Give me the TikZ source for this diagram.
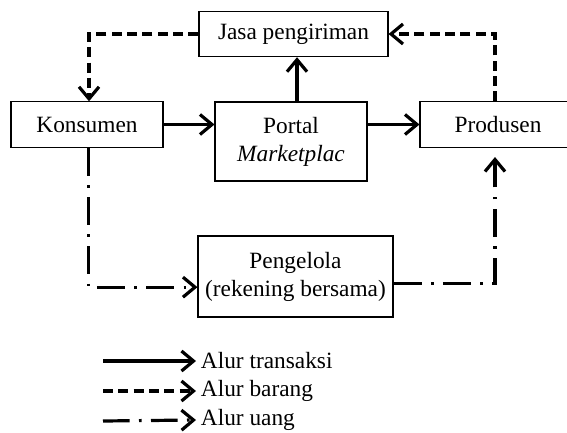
\documentclass[tikz,border=0pt]{standalone}
\usepackage{fontspec}
\setmainfont{Liberation Serif}
\usetikzlibrary{arrows.meta}

\tikzset{every picture/.style={line width=0.75pt}}
\tikzset{
  box/.style={draw, line width=0.8pt, align=center, inner sep=0pt},
  flow/.style={line width=2.4pt, -{Straight Barb[length=9pt,width=15pt,line width=2.4pt]}},
  goods/.style={flow, dash pattern=on 7.5pt off 4pt},
  money/.style={flow, dash pattern=on 21pt off 7pt on 2pt off 7pt},
}

\begin{document}
\begin{tikzpicture}[x=0.75pt,y=0.75pt,yscale=-1,xscale=1,font=\fontsize{17.5}{21}\selectfont]
\useasboundingbox (0,0) rectangle (567,432);

%Shape: Rectangle
\node[box, minimum width=141.75pt, minimum height=34pt] (jasa) at (293.5,34) {Jasa pengiriman};
%Shape: Rectangle
\node[box, minimum width=114pt, minimum height=34pt] (konsumen) at (87,124.5) {Konsumen};
%Shape: Rectangle
\node[box, minimum width=114pt, minimum height=59.25pt] (portal) at (291,141.5) {Portal\\\textit{Marketplac}};
%Shape: Rectangle
\node[box, minimum width=117pt, minimum height=34pt] (produsen) at (498,124.5) {Produsen};
%Shape: Rectangle
\node[box, minimum width=146.25pt, minimum height=60.75pt] (pengelola) at (295.5,276.5) {Pengelola\\(rekening bersama)};

%Straight Lines
\draw[flow] (konsumen.east) -- (portal.west |- konsumen.east);
\draw[flow] (portal.east |- produsen.west) -- (produsen.west);
\draw[flow] ([xshift=4.5pt]portal.north) -- ([xshift=4.5pt]portal.north |- jasa.south);

%Dashed Lines
\draw[goods] (jasa.west) -| ([xshift=1.5pt]konsumen.north);
\draw[goods] ([xshift=-2.25pt]produsen.north) |- (jasa.east);

%Dash-dot Lines
\draw[money] ([xshift=1pt]konsumen.south) |- ([yshift=8pt]pengelola.west);
\draw[money] ([yshift=5pt]pengelola.east) -| ([xshift=-2.25pt,yshift=7pt]produsen.south);

% Text Node
\node[anchor=west] (lgtrans) at (196,361) {Alur transaksi};
\node[anchor=west] (lgbarang) at (196,391) {Alur barang};
\node[anchor=west] (lguang) at (196,420) {Alur uang};
\coordinate (lgA) at (103,361);
\coordinate (lgB) at (103,391);
\coordinate (lgC) at (103,421);

\draw[flow] (lgA) -- (lgtrans.west);
\draw[goods] (lgB) -- (lgbarang.west);
\draw[money, dash pattern=on 20pt off 7pt on 2pt off 7pt] (lgC) -- (lguang.west);

\end{tikzpicture}
\end{document}
